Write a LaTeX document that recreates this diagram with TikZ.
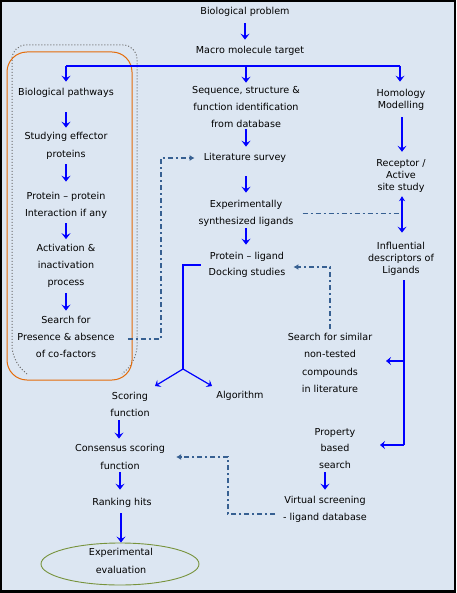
\documentclass[tikz,border=0pt]{standalone}
\usepackage{fontspec}
\setmainfont{DejaVu Sans}
\usetikzlibrary{arrows.meta,shapes.geometric,calc}
\definecolor{bgc}{HTML}{DCE6F2}
\definecolor{ddc}{HTML}{376092}
\definecolor{orc}{HTML}{E46C0A}
\definecolor{grc}{HTML}{77933C}
\begin{document}
\begin{tikzpicture}[x=1pt,y=-1pt,
  txt/.style={align=center,inner sep=1pt,font=\fontsize{9.6}{17}\selectfont,text=black},
  tight/.style={font=\fontsize{9.6}{12}\selectfont},
  barrow/.style={draw=blue,line width=2pt,-{Stealth[length=6pt,width=9pt,inset=2.5pt]}},
  tarrow/.style={draw=blue,line width=1.2pt,-{Stealth[length=5pt,width=8pt,inset=2pt]}},
  tline/.style={draw=blue,line width=1.2pt},
  ddash/.style={draw=ddc,line width=1.6pt,dash pattern=on 5pt off 3pt on 2pt off 3pt},
  ddarrow/.style={ddash,-{Latex[length=5pt,width=6pt]}}]
\useasboundingbox (0,0) rectangle (456,593);
\fill[black] (0,0) rectangle (456,593);
\fill[bgc] (2,2) rectangle (454,590);

% grouping boxes
\draw[gray!85!black,line width=1pt,dash pattern=on 1pt off 2pt,rounded corners=14pt] (27,374) -- (12,360) -- (12,45) -- (137,45) -- (137,360) -- (122,374);
\draw[orc,line width=1pt,rounded corners=20pt] (7,52) rectangle (132,380);

% nodes
\node[txt] (bp) at (245,12) {Biological problem};
\node[txt] (mt) at (250,51) {Macro molecule target};
\node[txt] (path) at (66,93) {Biological pathways};
\node[txt,font=\fontsize{9.6}{18}\selectfont] (eff) at (66,146) {Studying effector\\proteins};
\node[txt] (ppi) at (66,205.5) {Protein -- protein\\Interaction if any};
\node[txt] (act) at (66,265.5) {Activation \&\\inactivation\\process};
\node[txt] (cof) at (66,337) {Search for\\Presence \& absence\\of co-factors};
\node[txt] (seq) at (246,107) {Sequence, structure \&\\function identification\\from database};
\node[txt] (lit) at (245,158) {Literature survey};
\node[txt] (exp) at (246,213.5) {Experimentally\\synthesized ligands};
\node[txt,font=\fontsize{9.6}{16}\selectfont] (dock) at (247,265) {Protein -- ligand\\Docking studies};
\node[txt] (score) at (130,404.5) {Scoring\\function};
\node[txt] (alg) at (240,396) {Algorithm};
\node[txt,font=\fontsize{9.6}{18}\selectfont] (cons) at (120,457) {Consensus scoring\\function};
\node[txt] (rank) at (122,503) {Ranking hits};
\node[draw=grc,line width=0.9pt,ellipse,minimum width=158pt,minimum height=42pt,inner sep=0pt] (eval) at (120,564) {};
\node[txt,font=\fontsize{9.6}{18}\selectfont] (evaltxt) at (121,561) {Experimental\\evaluation};
\node[txt,tight] (hom) at (401,100) {Homology\\Modelling};
\node[txt,tight] (rec) at (401,176) {Receptor /\\Active\\site study};
\node[txt,tight] (infl) at (401,259) {Influential\\descriptors of\\Ligands};
\node[txt,font=\fontsize{9.6}{17.3}\selectfont] (sim) at (330,363) {Search for similar\\non-tested\\compounds\\in literature};
\node[txt,font=\fontsize{9.6}{16.5}\selectfont] (prop) at (335,448.5) {Property\\based\\search};
\node[txt] (vs) at (325,509.5) {Virtual screening\\- ligand database};

% coordinates
\coordinate (busL) at (66,66);
\coordinate (busM) at (246,66);
\coordinate (busR) at (400,66);
\coordinate (fork) at (183,369);
\coordinate (tipL) at (155,386);
\coordinate (tipR) at (212,386);
\coordinate (rmid) at (404,361);
\coordinate (rbot) at (404,445);
\coordinate (tipS) at (386,361);
\coordinate (tipP) at (380,445);

% blue connectors
\draw[barrow,shorten <=5.5pt,shorten >=5.5pt] (bp.south) -- (bp.south |- mt.north);
\draw[tline] (busL) -- (busR);
\draw[barrow,shorten >=5.5pt] (busL) -- (busL |- path.north);
\draw[barrow,shorten >=2.5pt] (busM) -- (busM |- seq.north);
\draw[barrow,shorten >=6.5pt] (busR) -- (busR |- hom.north);
\draw[barrow,shorten <=13.5pt,shorten >=3.5pt] (path.south) -- (eff.north);
\draw[barrow,shorten <=3.5pt,shorten >=9.5pt] (eff.south) -- (ppi.north);
\draw[barrow,shorten <=3.5pt,shorten >=3.5pt] (ppi.south) -- (act.north);
\draw[barrow,shorten <=4.5pt,shorten >=4.5pt] (act.south) -- (cof.north);
\draw[barrow,shorten <=0.5pt,shorten >=5.5pt] (seq.south) -- (seq.south |- lit.north);
\draw[barrow,shorten <=12.5pt,shorten >=6.5pt] (lit.south -| seq.south) -- (seq.south |- exp.north);
\draw[barrow,shorten <=0.5pt,shorten >=6.5pt] (exp.south) -- (exp.south |- dock.north);
\draw[barrow,shorten <=5.5pt,shorten >=6.5pt] ([xshift=1pt]hom.south) -- ([xshift=1pt]hom.south |- rec.north);
\draw[draw=blue,line width=2pt,{Stealth[length=5pt,width=6pt]}-{Stealth[length=6pt,width=9pt,inset=2.5pt]},shorten <=2.5pt,shorten >=8.5pt] ([xshift=1pt]rec.south) -- ([xshift=1pt]rec.south |- infl.north);
\draw[barrow,shorten <=2.5pt,shorten >=4.5pt] ([xshift=-11pt]score.south) -- ([xshift=-11pt]score.south |- cons.north);
\draw[barrow,shorten <=1.5pt,shorten >=7.5pt] (cons.south) -- (cons.south |- rank.north);
\draw[barrow,shorten <=4.5pt] ([xshift=-1pt]rank.south) -- ([xshift=-1pt]rank.south |- eval.north);
\draw[barrow,shorten <=2.5pt,shorten >=5.5pt] ([xshift=-10pt]prop.south) -- ([xshift=-10pt]prop.south |- vs.north);

% fork from docking
\draw[tline,shorten <=7pt] (dock.west) -| (fork);
\draw[tarrow] (fork) -- (tipL);
\draw[tarrow] (fork) -- (tipR);

% right descriptor line
\draw[tline,shorten <=3.5pt] (infl.south -| rbot) -- (rbot);
\draw[tarrow] (rmid) -- (tipS);
\draw[tarrow] (rbot) -- (tipP);

% dash-dot connectors
\draw[ddarrow,shorten <=12pt,shorten >=8pt] ([yshift=-2pt]cof.east) -- ++(45,0) |- (lit.west);
\draw[ddash,shorten <=8pt,shorten >=1pt] (exp.east) -- (exp.east -| rec.south);
\draw[ddarrow,shorten <=3.5pt,shorten >=7pt] (sim.north) |- ([yshift=-2pt]dock.east);
\draw[ddarrow,shorten <=7pt,shorten >=10pt] ([yshift=-4.5pt]vs.west) -- ++(-54,0) |- (cons.east);
\end{tikzpicture}
\end{document}
